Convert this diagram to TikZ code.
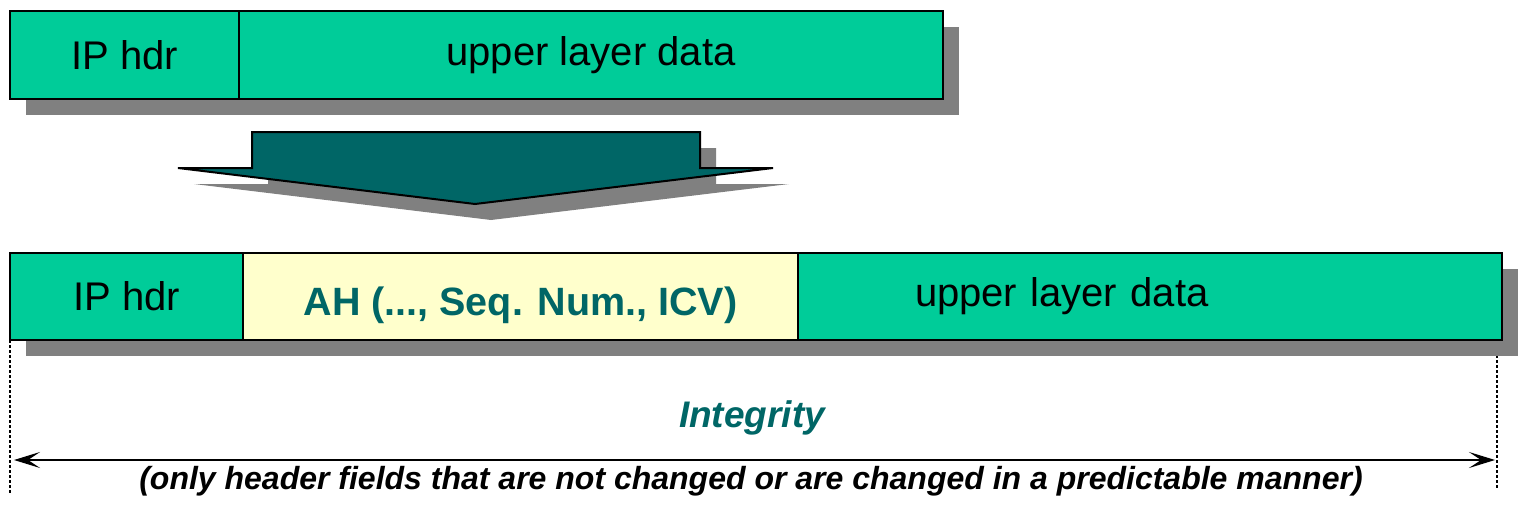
\documentclass[tikz,border=0pt]{standalone}
\usepackage{fontspec}
\setmainfont{Liberation Sans}
\usetikzlibrary{shadows,arrows.meta}
\definecolor{pktgreen}{RGB}{0,204,153}
\definecolor{ahyellow}{RGB}{255,255,204}
\definecolor{darkteal}{RGB}{0,102,102}
\definecolor{shadowgray}{RGB}{128,128,128}

\begin{document}
\begin{tikzpicture}[x=1pt,y=-1pt,
  >={Stealth[length=26pt, width=16pt, inset=12pt]},
  pktshadow/.style={general shadow={fill=shadowgray, shadow xshift=16pt, shadow yshift=-16pt}},
  pkt/.style={draw, line width=2pt, fill=pktgreen, pktshadow, anchor=north west, outer sep=0pt, inner sep=0pt,
    minimum height=88pt, font=\fontsize{40}{48}\selectfont},
  guide/.style={dash pattern=on 3pt off 2pt, line width=2.5pt}]
\useasboundingbox (0,0) rectangle (1518,506);

\node[pkt, minimum width=229pt] (iphdr) at (10,11) {IP hdr};
\node[pkt, minimum width=704pt] (data) at (iphdr.north east) {upper layer data};

\draw[line width=2pt, fill=darkteal, pktshadow] (252,132) -- (700,132) -- (700,168) -- (773,168)
  -- (475,204) -- (178,168) -- (252,168) -- cycle;

\coordinate (lguide) at (10,493);
\coordinate (rtop) at (1497,340);
\coordinate (rguide) at (1497,488);
\draw[guide] (10,340) -- (lguide);
\draw[guide] (rtop) -- (rguide);

\node[pkt, minimum width=233pt, minimum height=87pt] (iphdr2) at (10,253) {IP hdr};
\node[pkt, minimum width=555pt, minimum height=87pt, fill=ahyellow, text=darkteal, text height=46pt,
  font=\bfseries\fontsize{39.5}{48}\selectfont] (ah) at (iphdr2.north east) {AH (..., Seq. Num., ICV)};
\node[pkt, minimum height=87pt, text width=470pt, inner xsep=117pt, align=left] (data2) at (ah.north east) {upper layer data};

\node[text=darkteal, font=\bfseries\itshape\fontsize{37}{44}\selectfont] (integrity) at (752,418) {Integrity};

\coordinate (lend) at (14,460);
\coordinate (rend) at (1495,460);
\draw[<->, line width=2pt] (lend) -- (rend);

\node[font=\bfseries\itshape\fontsize{32}{38}\selectfont] (note) at (751,481)
  {(only header fields that are not changed or are changed in a predictable manner)};
\end{tikzpicture}
\end{document}
